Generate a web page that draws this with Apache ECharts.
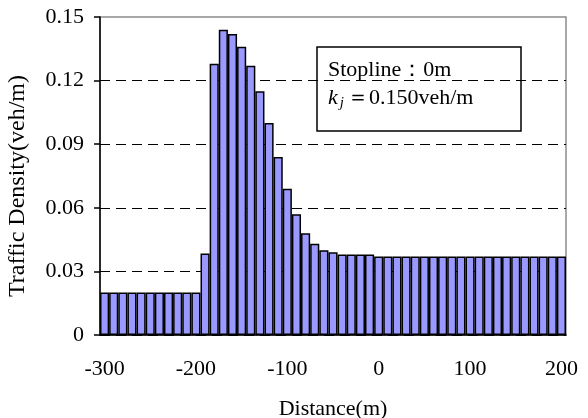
<!DOCTYPE html>
<html>
<head>
<meta charset="utf-8">
<script src="https://cdn.jsdelivr.net/npm/echarts@6/dist/echarts.min.js"></script>
<style>
  html, body { margin: 0; padding: 0; background: #fff; }
  #chart { width: 588px; height: 418px; }
</style>
</head>
<body>
<div id="chart"></div>
<script>
// distance along the approach (m), one bar per 10 m cell
var distances = [
  '-300', '-290', '-280', '-270', '-260', '-250', '-240', '-230', '-220', '-210',
  '-200', '-190', '-180', '-170', '-160', '-150', '-140', '-130', '-120', '-110',
  '-100', '-90', '-80', '-70', '-60', '-50', '-40', '-30', '-20', '-10',
  '0', '10', '20', '30', '40', '50', '60', '70', '80', '90',
  '100', '110', '120', '130', '140', '150', '160', '170', '180', '190', '200'
];

// traffic density (veh/m)
var density = [
  0.020, 0.020, 0.020, 0.020, 0.020, 0.020, 0.020, 0.020, 0.020, 0.020,
  0.020, 0.0385, 0.128, 0.144, 0.142, 0.136, 0.127, 0.115, 0.100, 0.084,
  0.069, 0.057, 0.048, 0.043, 0.040, 0.039, 0.038, 0.038, 0.038, 0.038,
  0.037, 0.037, 0.037, 0.037, 0.037, 0.037, 0.037, 0.037, 0.037, 0.037,
  0.037, 0.037, 0.037, 0.037, 0.037, 0.037, 0.037, 0.037, 0.037, 0.037, 0.037
];

var yTicks = { min: 0, max: 0.15, step: 0.03 };

var font = 'Liberation Serif';

var chart = echarts.init(document.getElementById('chart'), null, { renderer: 'canvas' });

var option = {
  animation: false,
  backgroundColor: '#fff',
  grid: {
    left: 100,
    right: 22,
    top: 17,
    bottom: 83,
    outerBoundsMode: 'none',
    show: true,
    borderColor: '#8c8c8c',
    borderWidth: 1.5,
    backgroundColor: 'transparent'
  },
  xAxis: {
    type: 'category',
    data: distances,
    name: 'Distance(m)',
    nameLocation: 'middle',
    nameGap: 63,
    nameTextStyle: { fontFamily: font, fontSize: 22, color: '#000' },
    axisLine: { lineStyle: { color: '#000', width: 1.5 } },
    axisTick: { show: false },
    axisLabel: {
      interval: 9,
      margin: 23,
      fontFamily: font,
      fontSize: 22,
      color: '#000'
    },
    splitLine: { show: false }
  },
  yAxis: {
    type: 'value',
    min: yTicks.min,
    max: yTicks.max,
    interval: yTicks.step,
    name: 'Traffic Density(veh/m)',
    nameLocation: 'middle',
    nameGap: 70,
    nameTextStyle: { fontFamily: font, fontSize: 24, color: '#000', padding: [0, 20, 0, 0] },
    axisLine: { show: true, lineStyle: { color: '#000', width: 1.5 } },
    axisTick: { show: true, inside: false, length: 6, lineStyle: { color: '#000', width: 1.5 } },
    axisLabel: {
      margin: 16,
      fontFamily: font,
      fontSize: 22,
      color: '#000',
      formatter: function (v) { return v === 0 ? '0' : v.toFixed(2); }
    },
    splitLine: {
      show: true,
      showMaxLine: false,
      lineStyle: { color: '#000', type: [10, 6], width: 1 }
    }
  },
  series: [{
    type: 'bar',
    data: density,
    barCategoryGap: '0%',
    itemStyle: {
      color: '#9999ff',
      borderColor: '#000',
      borderWidth: 1.5
    },
    z: 3
  }],
  graphic: [
    {
      type: 'rect',
      shape: { x: 317, y: 47, width: 204, height: 84 },
      style: { fill: 'none', stroke: '#000', lineWidth: 1.5 },
      z: 10
    },
    {
      type: 'text',
      left: 328,
      top: 59,
      style: {
        text: 'Stopline：0m',
        fontFamily: font,
        fontSize: 22,
        fill: '#000'
      },
      z: 10
    },
    {
      type: 'text',
      left: 328,
      top: 87,
      style: {
        text: '{k|k}{j|j}{n|＝0.150veh/m}',
        fontFamily: font,
        fontSize: 22,
        fill: '#000',
        rich: {
          k: { fontFamily: font, fontStyle: 'italic', fontSize: 22, fill: '#000' },
          j: { fontFamily: font, fontStyle: 'italic', fontSize: 15, fill: '#000', verticalAlign: 'bottom', padding: [10, 3, 0, 2] },
          n: { fontFamily: font, fontSize: 22, fill: '#000' }
        }
      },
      z: 10
    }
  ]
};

chart.setOption(option);
</script>
</body>
</html>
